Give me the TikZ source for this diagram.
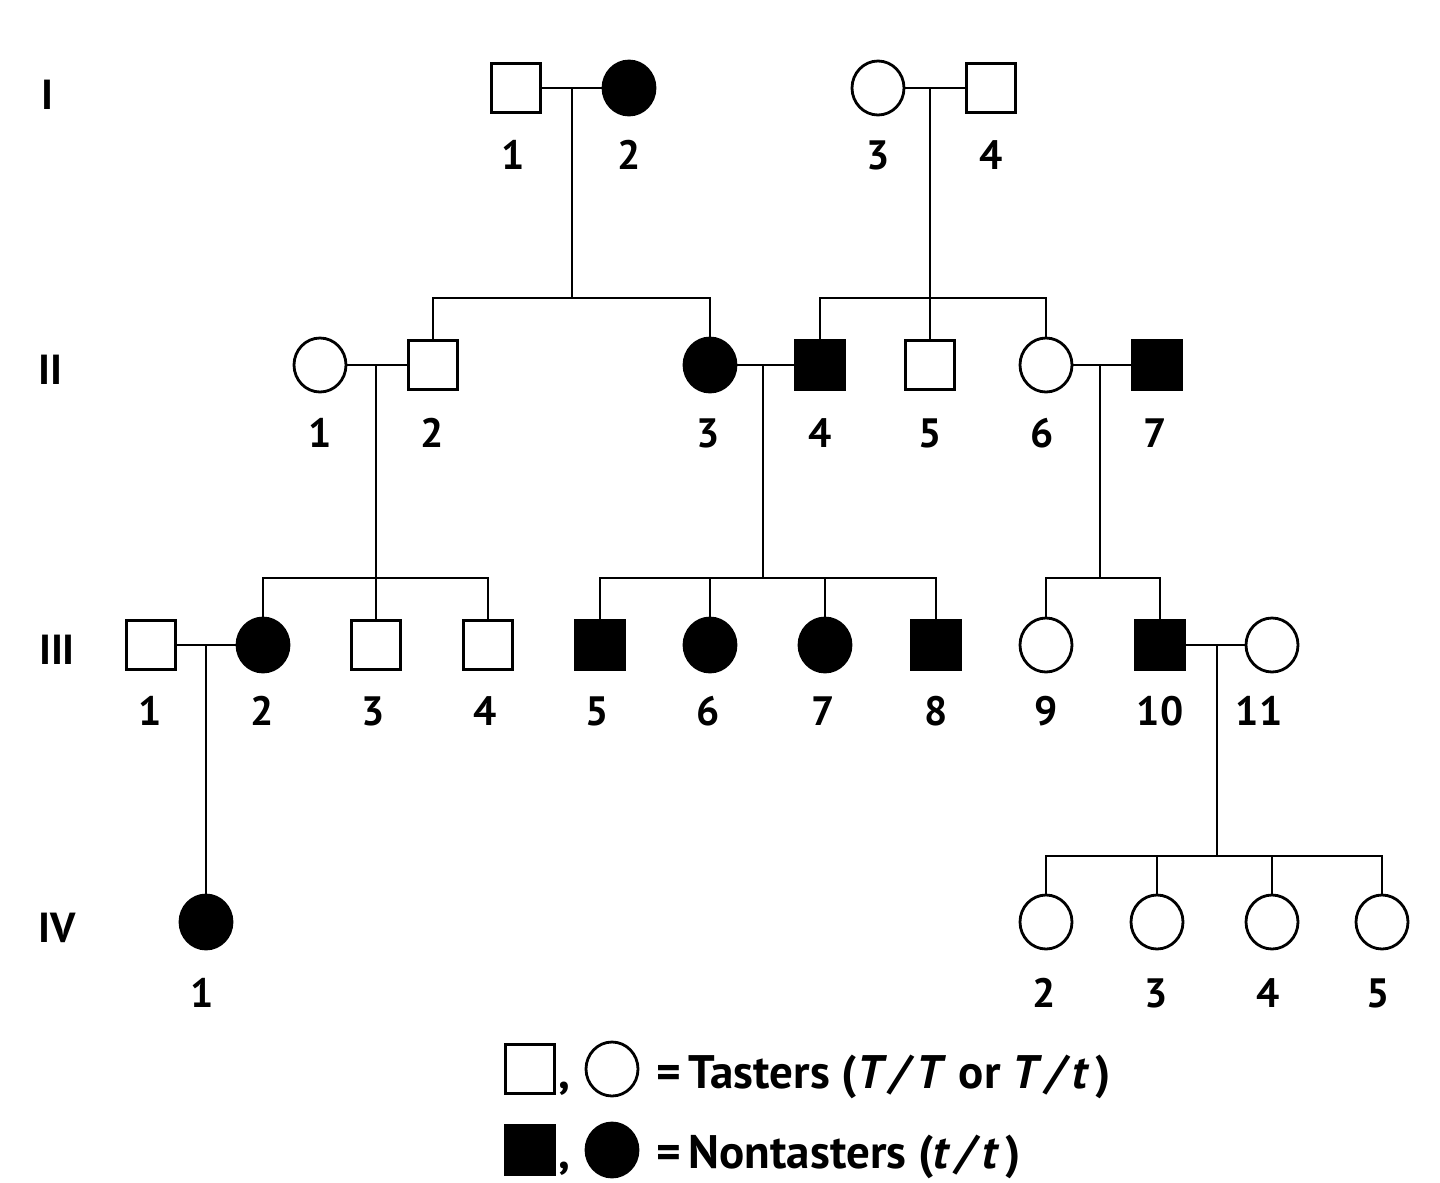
\documentclass[tikz,border=0pt]{standalone}
\usepackage{fontspec}
\setmainfont{PT Sans}
\usetikzlibrary{shapes.geometric}
\begin{document}
\begin{tikzpicture}[x=1pt,y=-1pt,
  male/.style={draw,rectangle,minimum size=49pt,inner sep=0pt,line width=2.8pt,fill=white},
  fem/.style={draw,ellipse,minimum width=52pt,minimum height=54pt,inner sep=0pt,line width=2.8pt,fill=white},
  aff/.style={fill=black},
  num/.style={font=\fontsize{41}{41}\selectfont\bfseries,inner sep=0pt},
  gen/.style={font=\fontsize{42}{42}\selectfont\bfseries,inner sep=0pt},
  leg/.style={font=\fontsize{47}{47}\selectfont\bfseries,inner sep=0pt,anchor=base west},
  link/.style={line width=2.6pt}]
\useasboundingbox (0,0) rectangle (1440,1183);
% generation labels
\node[gen] (gI) at (47,95) {I};
\node[gen] (gII) at (50,370) {II};
\node[gen] (gIII) at (57,650) {III};
\node[gen] (gIV) at (57,928) {IV};
% connector coordinates
\coordinate (m12) at (572,88);
\coordinate (m34) at (930,88);
\coordinate (s1) at (572,298);
\coordinate (s2) at (930,298);
\coordinate (mII12) at (376,365);
\coordinate (mII34) at (763,365);
\coordinate (mII67) at (1100,365);
\coordinate (s3) at (376,578);
\coordinate (s4) at (763,578);
\coordinate (s5) at (1100,578);
\coordinate (mIII12) at (206,645);
\coordinate (mIII1011) at (1217,645);
\coordinate (s6) at (1217,856);
% generation I
\node[male] (I1) at (516,88) {};
\node[fem,aff] (I2) at (629,88) {};
\node[fem] (I3) at (878,88) {};
\node[male] (I4) at (991,88) {};
% generation II
\node[fem] (II1) at (320,365) {};
\node[male] (II2) at (433,365) {};
\node[fem,aff] (II3) at (710,365) {};
\node[male,aff] (II4) at (820,365) {};
\node[male] (II5) at (930,365) {};
\node[fem] (II6) at (1046,365) {};
\node[male,aff] (II7) at (1157,365) {};
% generation III
\node[male] (III1) at (151,645) {};
\node[fem,aff] (III2) at (263,645) {};
\node[male] (III3) at (376,645) {};
\node[male] (III4) at (488,645) {};
\node[male,aff] (III5) at (600,645) {};
\node[fem,aff] (III6) at (710,645) {};
\node[fem,aff] (III7) at (825,645) {};
\node[male,aff] (III8) at (936,645) {};
\node[fem] (III9) at (1046,645) {};
\node[male,aff] (III10) at (1160,645) {};
\node[fem] (III11) at (1272,645) {};
% generation IV
\node[fem,aff] (IV1) at (206,922) {};
\node[fem] (IV2) at (1046,922) {};
\node[fem] (IV3) at (1157,922) {};
\node[fem] (IV4) at (1272,922) {};
\node[fem] (IV5) at (1382,922) {};
% connectors
\begin{scope}[link]
\draw (I1.east) -- (I2.west);
\draw (I3.east) -- (I4.west);
\draw (m12) -- (s1);
\draw (II2.north) |- (s1) -| (II3.north);
\draw (m34) -- (II5.north);
\draw (II4.north) |- (s2) -| (II6.north);
\draw (II1.east) -- (II2.west);
\draw (II3.east) -- (II4.west);
\draw (II6.east) -- (II7.west);
\draw (mII12) -- (III3.north);
\draw (III2.north) |- (s3) -| (III4.north);
\draw (mII34) -- (s4);
\draw (III5.north) |- (s4) -| (III8.north);
\draw (III6.north) -- (III6.north |- s4);
\draw (III7.north) -- (III7.north |- s4);
\draw (mII67) -- (s5);
\draw (III9.north) |- (s5) -| (III10.north);
\draw (III1.east) -- (III2.west);
\draw (III10.east) -- (III11.west);
\draw (mIII12) -- (IV1.north);
\draw (mIII1011) -- (s6);
\draw (IV2.north) |- (s6) -| (IV5.north);
\draw (IV3.north) -- (IV3.north |- s6);
\draw (IV4.north) -- (IV4.north |- s6);
\end{scope}
% numbers
\node[num] (nI1) at (513,155) {1};
\node[num] (nI2) at (629,155) {2};
\node[num] (nI3) at (878,155) {3};
\node[num] (nI4) at (991,155) {4};
\node[num] (nII1) at (320,433) {1};
\node[num] (nII2) at (432,433) {2};
\node[num] (nII3) at (708,433) {3};
\node[num] (nII4) at (820,433) {4};
\node[num] (nII5) at (930,433) {5};
\node[num] (nII6) at (1042,433) {6};
\node[num] (nII7) at (1155,433) {7};
\node[num] (nIII1) at (150,711) {1};
\node[num] (nIII2) at (262,711) {2};
\node[num] (nIII3) at (373,711) {3};
\node[num] (nIII4) at (485,711) {4};
\node[num] (nIII5) at (597,711) {5};
\node[num] (nIII6) at (708,711) {6};
\node[num] (nIII7) at (823,711) {7};
\node[num] (nIII8) at (936,711) {8};
\node[num] (nIII9) at (1046,711) {9};
\node[num] (nIII10) at (1160,711) {10};
\node[num] (nIII11) at (1259,711) {11};
\node[num] (nIV1) at (202,993) {1};
\node[num] (nIV2) at (1044,993) {2};
\node[num] (nIV3) at (1156,993) {3};
\node[num] (nIV4) at (1268,993) {4};
\node[num] (nIV5) at (1378,993) {5};
% legend
\node[male] (L1) at (530,1069) {};
\node[fem] (L2) at (612,1069) {};
\node[male,aff] (L3) at (530,1150) {};
\node[fem,aff] (L4) at (612,1150) {};
\node[leg] (c1) at (558,1088) {,};
\node[leg] (c2) at (558,1168) {,};
\node[leg] (t1) at (656,1088) {=\,Tasters (\textit{T\,/\,T} or \textit{T\,/\,t\,})};
\node[leg] (t2) at (656,1168) {=\,Nontasters (\textit{t\,/\,t\,})};
\end{tikzpicture}
\end{document}
